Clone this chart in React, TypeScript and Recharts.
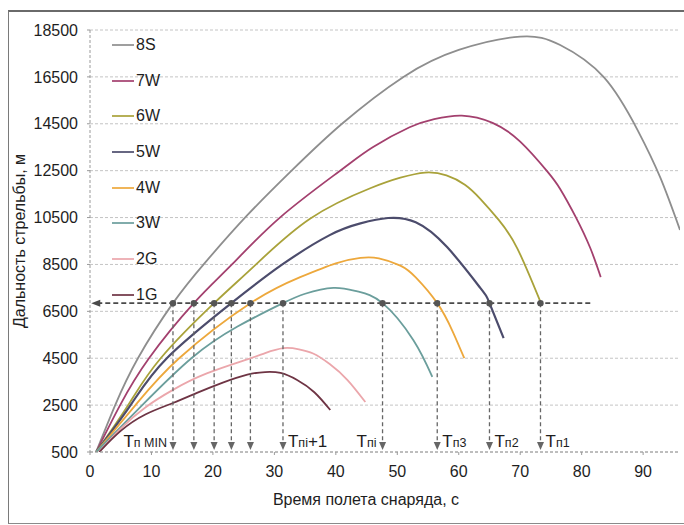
import React from 'react';
import {
  LineChart,
  Line,
  XAxis,
  YAxis,
  CartesianGrid,
  ReferenceLine,
  ReferenceDot,
  Legend,
} from 'recharts';

// ---- data (time of flight, s  /  range, m) ----
const T_8S = [1, 4.1, 7.8, 13.5, 18.8, 25.6, 32.8, 41, 51, 60, 70, 76.5, 83.6, 89.1, 92.8, 96];
const R_8S = [500, 2500, 4500, 6850, 8600, 10600, 12500, 14500, 16500, 17650, 18220, 17860, 16490, 14230, 12200, 9970];

const T_7W = [1, 4.9, 9.6, 16.9, 23.1, 30.9, 40.7, 46, 52, 56, 60.5, 65.5, 70, 74.4, 76.5, 79, 81.4, 83.1];
const R_7W = [500, 2500, 4500, 6850, 8500, 10500, 12500, 13500, 14350, 14700, 14850, 14540, 13740, 12470, 11720, 10540, 9200, 7960];

const T_6W = [1, 6.2, 11.5, 20.2, 26.8, 35.8, 45.6, 50.5, 54.5, 58, 61, 63.5, 66.5, 69.5, 73.3];
const R_6W = [500, 2500, 4500, 6850, 8450, 10450, 11750, 12200, 12420, 12300, 11900, 11300, 10400, 9200, 6900];

const T_5W = [1, 6.6, 12.5, 23, 31.3, 39, 44, 48.5, 53, 58.1, 63.5, 65, 67.3];
const R_5W = [500, 2500, 4500, 6850, 8500, 9750, 10250, 10480, 10300, 9240, 7500, 6850, 5360];

const T_4W = [1, 7.4, 14.5, 26.1, 34.2, 40, 44, 47, 50.5, 53, 56.5, 59, 60.9];
const R_4W = [500, 2500, 4500, 6850, 7960, 8550, 8780, 8760, 8450, 7950, 6850, 5650, 4500];

const T_3W = [1, 8.5, 16.5, 24, 31.4, 35, 39.6, 43.5, 47.6, 52.6, 55.7];
const R_3W = [500, 2500, 4500, 5850, 6850, 7250, 7500, 7350, 6850, 5280, 3700];

const T_2G = [1.5, 5, 9, 13.5, 19, 25.6, 28.5, 31.5, 34, 36.3, 39, 41.9, 44.8];
const R_2G = [500, 1500, 2400, 3150, 3850, 4450, 4720, 4930, 4880, 4700, 4250, 3570, 2630];

const T_1G = [1.5, 5, 9, 13.5, 17.4, 21.5, 25.6, 28.5, 31, 33.7, 36.5, 39.1];
const R_1G = [500, 1400, 2100, 2590, 3020, 3450, 3800, 3910, 3870, 3570, 3050, 2290];

const SERIES_NAMES = ['8S', '7W', '6W', '5W', '4W', '3W', '2G', '1G'];
const SERIES_T = [T_8S, T_7W, T_6W, T_5W, T_4W, T_3W, T_2G, T_1G];
const SERIES_R = [R_8S, R_7W, R_6W, R_5W, R_4W, R_3W, R_2G, R_1G];

const X_TICKS = [0, 10, 20, 30, 40, 50, 60, 70, 80, 90];
const Y_TICKS = [500, 2500, 4500, 6500, 8500, 10500, 12500, 14500, 16500, 18500];

const LEVEL = 6850; // given range (horizontal dashed line)
const LEVEL_FROM = 0.2;
const LEVEL_TO = 81.4;
const T_MARKS = [13.5, 16.9, 20.2, 23, 26.1, 31.4, 47.6, 56.5, 65, 73.3];
const T_SUBS = ['п MIN', '', '', '', '', 'пi', 'пi', 'п3', 'п2', 'п1'];
const T_SUFFIX = ['', '', '', '', '', '+1', '', '', '', ''];

// ---- styles ----
const COLORS = ['#8e8e8e', '#a3406e', '#a9a23a', '#4c4c6c', '#eda83c', '#6b9e9c', '#eba6ab', '#6e3444'];
const LABEL_LEFT = [true, false, false, false, false, false, true, false, false, false];
const FONT = '"Liberation Sans", Arial, sans-serif';
const TEXT = '#1e1e1e';

const seriesData = SERIES_T.map((ts, i) => ts.map((t, j) => ({ t, r: SERIES_R[i][j] })));

const makeVArrow = (idx: number) => (p: any) => {
  const { x1, y1, x2, y2 } = p;
  const tipY = y2 - 2;
  const sub = T_SUBS[idx];
  const left = LABEL_LEFT[idx];
  return (
    <g>
      <line x1={x1} y1={y1} x2={x2} y2={tipY - 6} stroke="#666" strokeWidth={1.3} strokeDasharray="4 3" />
      <path d={`M${x2 - 3.5},${tipY - 8} L${x2},${tipY} L${x2 + 3.5},${tipY - 8} Z`} fill="#666" />
      {sub ? (
        <text
          x={x1 + (left ? -6 : 5)}
          y={y2 - 5}
          textAnchor={left ? 'end' : 'start'}
          fontSize={17}
          fill={TEXT}
          fontFamily={FONT}
        >
          T<tspan fontSize={12.5}>{sub}</tspan>
          {T_SUFFIX[idx] ? <tspan fontSize={17}>{T_SUFFIX[idx]}</tspan> : null}
        </text>
      ) : null}
    </g>
  );
};

const hArrow = (p: any) => {
  const { x1, y1, x2, y2 } = p;
  return (
    <g>
      <line x1={x1} y1={y1} x2={x2 + 7} y2={y2} stroke="#4a4a4a" strokeWidth={1.6} strokeDasharray="5 3" />
      <path d={`M${x2 + 9},${y2 - 3.5} L${x2},${y2} L${x2 + 9},${y2 + 3.5} Z`} fill="#4a4a4a" />
    </g>
  );
};

const LegendBox = (props: any) => {
  const payload = props.payload || [];
  const ordered = SERIES_NAMES.map((n) => payload.find((p: any) => p.value === n)).filter(Boolean);
  return (
    <div style={{ fontFamily: FONT }}>
      {ordered.map((p: any) => (
        <div key={p.value} style={{ height: 35.7, display: 'flex', alignItems: 'center' }}>
          <span style={{ display: 'inline-block', width: 22, height: 0, borderTop: `2px solid ${p.color}`, marginRight: 2, opacity: 0.85 }} />
          <span style={{ fontSize: 16, color: TEXT, lineHeight: '16px' }}>{p.value}</span>
        </div>
      ))}
    </div>
  );
};

export default function App() {
  return (
    <div style={{ position: 'absolute', left: 0, top: 0, width: 684, height: 525, overflow: 'hidden', background: '#fff', fontFamily: FONT }}>
      <div
        style={{
          position: 'absolute',
          left: 8,
          top: 10,
          width: 700,
          height: 511,
          borderTop: '2px solid #6a6a6a',
          borderLeft: '1.5px solid #7a7a7a',
          borderBottom: '1.5px solid #8a8a8a',
        }}
      />
      <div style={{ position: 'absolute', left: 0, top: 0 }}>
        <LineChart width={684} height={525} margin={{ top: 30, right: 4, bottom: 0, left: 0 }}>
          <CartesianGrid vertical={false} stroke="#c4c4c4" strokeDasharray="3 2" />
          <XAxis
            type="number"
            dataKey="t"
            domain={[0, 96]}
            ticks={X_TICKS}
            allowDataOverflow
            height={73}
            axisLine={{ stroke: '#9a9a9a', strokeDasharray: '3 2' }}
            tickLine={{ stroke: '#9a9a9a' }}
            tickSize={3}
            tickMargin={11}
            tick={{ fontSize: 16, fill: TEXT, fontFamily: FONT }}
            label={{
              content: (lp: any) => {
                const vb = lp.viewBox || {};
                return (
                  <text x={vb.x + vb.width / 2 - 19} y={vb.y + vb.height - 20} textAnchor="middle" fontSize={16} fill={TEXT} fontFamily={FONT}>
                    Время полета снаряда, с
                  </text>
                );
              },
            }}
          />
          <YAxis
            type="number"
            domain={[500, 18500]}
            ticks={Y_TICKS}
            allowDataOverflow
            width={90}
            axisLine={{ stroke: '#9a9a9a', strokeDasharray: '3 2' }}
            tickLine={{ stroke: '#9a9a9a' }}
            tickSize={3}
            tickMargin={9}
            tick={{ fontSize: 16, fill: TEXT, fontFamily: FONT }}
            label={{
              content: (lp: any) => {
                const vb = lp.viewBox || {};
                const cx = 19;
                const cy = vb.y + vb.height / 2;
                return (
                  <text x={cx} y={cy} transform={`rotate(-90, ${cx}, ${cy})`} textAnchor="middle" dominantBaseline="central" fontSize={16} fill={TEXT} fontFamily={FONT}>
                    Дальность стрельбы, м
                  </text>
                );
              },
            }}
          />
          <Legend
            layout="vertical"
            align="center"
            verticalAlign="middle"
            wrapperStyle={{ left: 112, top: 27, width: 70 }}
            content={LegendBox}
          />
          {SERIES_NAMES.map((name, i) => (
            <Line
              key={name}
              name={name}
              data={seriesData[i]}
              dataKey="r"
              type="natural"
              stroke={COLORS[i]}
              strokeWidth={i === 3 ? 2.2 : 1.8}
              dot={false}
              activeDot={false}
              isAnimationActive={false}
            />
          ))}
          <ReferenceLine
            segment={[{ x: LEVEL_TO, y: LEVEL }, { x: LEVEL_FROM, y: LEVEL }]}
            shape={hArrow}
          />
          {T_MARKS.map((t, i) => (
            <ReferenceLine
              key={'v' + i}
              segment={[{ x: t, y: LEVEL }, { x: t, y: 500 }]}
              shape={makeVArrow(i)}
            />
          ))}
          {T_MARKS.map((t, i) => (
            <ReferenceDot key={'d' + i} x={t} y={LEVEL} r={3.2} fill="#555" stroke="none" />
          ))}
        </LineChart>
      </div>
    </div>
  );
}
